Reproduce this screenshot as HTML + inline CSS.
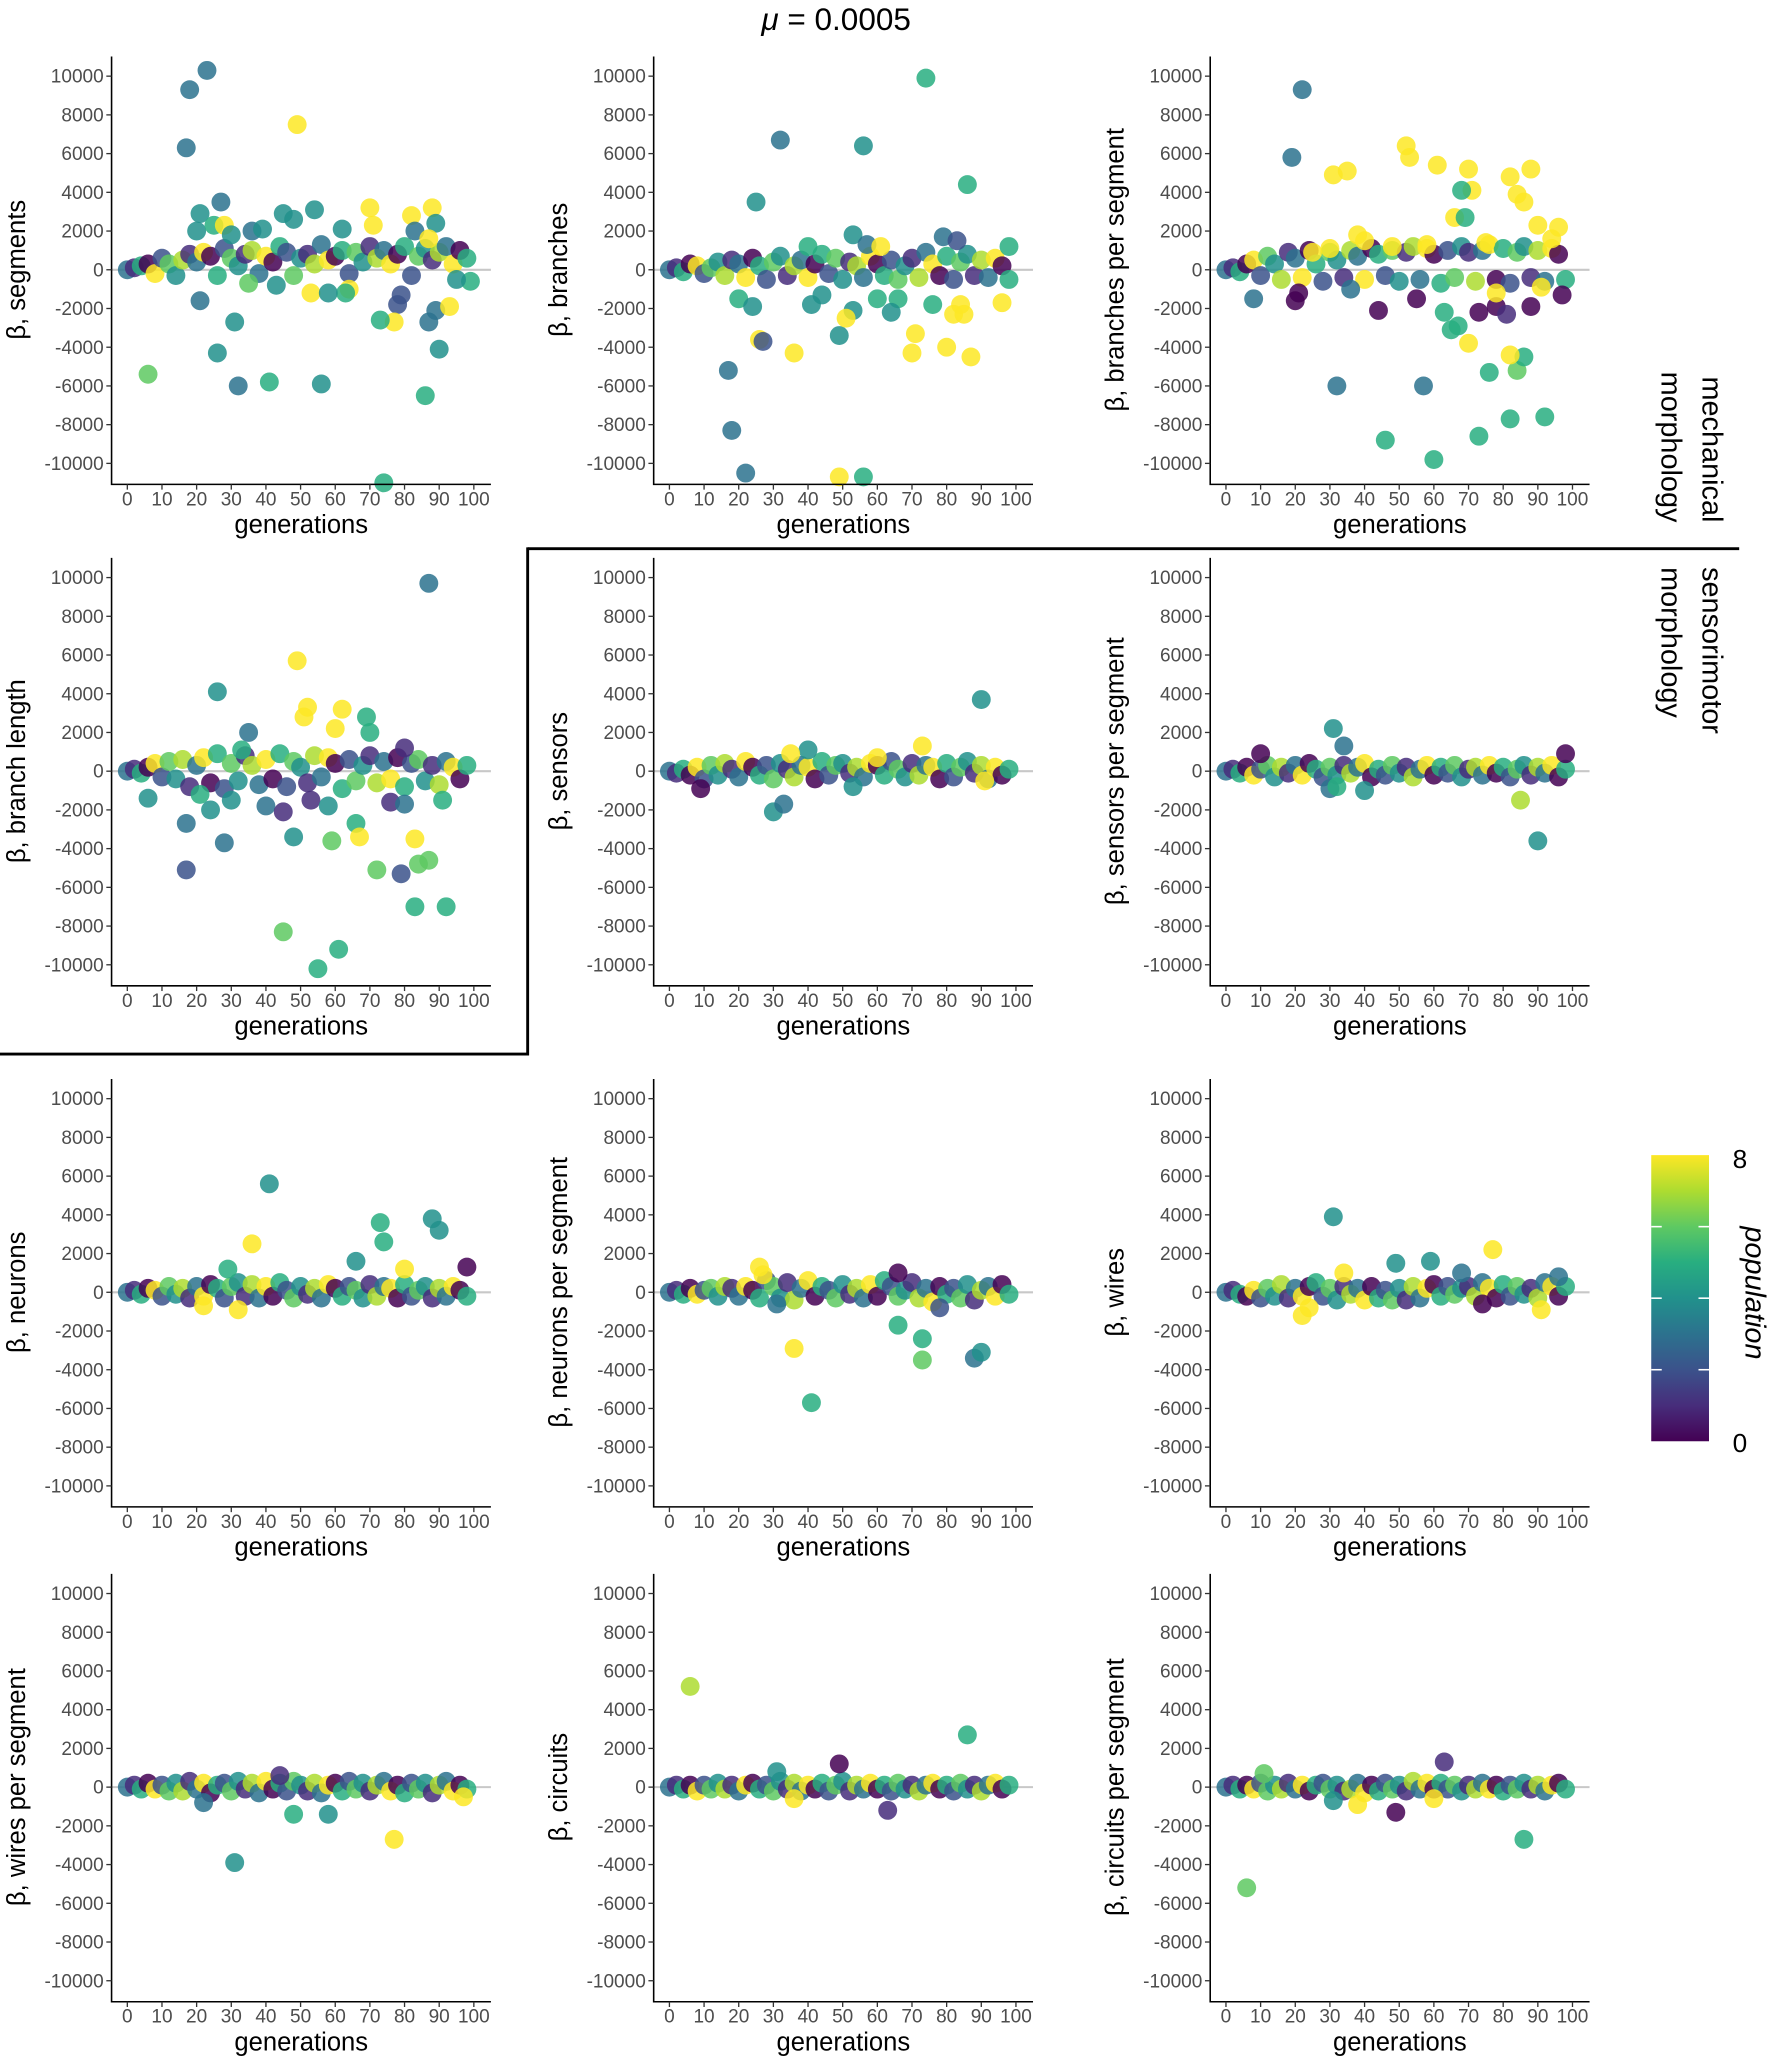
<!DOCTYPE html>
<html><head><meta charset="utf-8">
<style>
html,body{margin:0;padding:0;background:#fff;}
svg{display:block;font-family:"Liberation Sans",sans-serif;}
</style></head>
<body>
<svg id="fig" xmlns="http://www.w3.org/2000/svg" width="1772" height="2059" viewBox="0 0 1350 1568.6">
<defs>
<linearGradient id="vir" x1="0" y1="1" x2="0" y2="0">
<stop offset="0" stop-color="#440154"/><stop offset="0.125" stop-color="#472d7b"/><stop offset="0.25" stop-color="#3b528b"/><stop offset="0.375" stop-color="#2c728e"/><stop offset="0.5" stop-color="#21918c"/><stop offset="0.625" stop-color="#28ae80"/><stop offset="0.75" stop-color="#5ec962"/><stop offset="0.875" stop-color="#addc30"/><stop offset="1" stop-color="#fde725"/>
</linearGradient>
</defs>
<text x="637" y="23" text-anchor="middle" font-size="24"><tspan font-style="italic">μ</tspan> = 0.0005</text>
<line x1="402" y1="418" x2="1325" y2="418" stroke="#000" stroke-width="2.2"/>
<line x1="402" y1="417" x2="402" y2="804" stroke="#000" stroke-width="2.2"/>
<line x1="0" y1="803" x2="403" y2="803" stroke="#000" stroke-width="2.2"/>
<g font-size="22">
<text transform="translate(1297,398) rotate(90)" text-anchor="end">mechanical</text>
<text transform="translate(1266,398) rotate(90)" text-anchor="end">morphology</text>
</g>
<g font-size="22">
<text transform="translate(1297,432) rotate(90)">sensorimotor</text>
<text transform="translate(1266,432) rotate(90)">morphology</text>
</g>
<g>
<rect x="1258" y="880" width="44" height="218" fill="url(#vir)"/>
<g stroke="#fff" stroke-width="1.2">
<line x1="1258" y1="934.5" x2="1266" y2="934.5"/><line x1="1294" y1="934.5" x2="1302" y2="934.5"/>
<line x1="1258" y1="989" x2="1266" y2="989"/><line x1="1294" y1="989" x2="1302" y2="989"/>
<line x1="1258" y1="1043.5" x2="1266" y2="1043.5"/><line x1="1294" y1="1043.5" x2="1302" y2="1043.5"/>
</g>
<text x="1320" y="890" font-size="20">8</text>
<text x="1320" y="1106" font-size="20">0</text>
<text transform="translate(1330,985) rotate(90)" text-anchor="middle" font-size="22" font-style="italic">population</text>
</g>
<g id="panels"></g>
</svg>
<script>
// shared cluster generations (x categories)
const clusterGen = [0,2,4,6,8,10,12,14,16,18,20,22,24,26,28,30,32,34,36,38,40,42,44,46,48,50,52,54,56,58,60,62,64,66,68,70,72,74,76,78,80,82,84,86,88,90,92,94,96,98];
const clusterPop = [3,1,5,0,8,2,6,4,7,1,3,8,0,5,2,6,4,1,7,3,8,0,5,2,6,4,1,7,3,8,0,5,2,6,4,1,7,3,8,0,5,2,6,4,1,7,3,8,0,5];
const xTicks = [0,10,20,30,40,50,60,70,80,90,100];
const yTicks = [10000,8000,6000,4000,2000,0,-2000,-4000,-6000,-8000,-10000];

const segBeta = [0,100,200,300,-200,600,300,-300,500,800,400,900,700,-300,1100,600,200,800,1000,-200,700,400,1200,900,-300,600,800,300,1300,500,700,1000,-200,900,400,1200,600,1000,300,800,1200,-300,700,1100,500,900,1200,300,1000,600];
const segOutGen = [17,18,23,49,6,32,41,56,86,74,26,31,90,21,27,21,45,48,54,70,88,82,89,71,62,83,36,39,20,25,28,30,87,53,64,63,58,79,78,77,73,87,89,93,35,43,99,95];
const segOutBeta = [6300,9300,10300,7500,-5400,-6000,-5800,-5900,-6500,-11000,-4300,-2700,-4100,-1600,3500,2900,2900,2600,3100,3200,3200,2800,2400,2300,2100,2000,2000,2100,2000,2300,2300,1800,1600,-1200,-1000,-1200,-1200,-1300,-1800,-2700,-2600,-2700,-2100,-1900,-700,-800,-600,-500];
const segOutPop = [3,3,3,8,6,3,5,4,5,5,4,4,4,3,3,4,4,4,4,8,8,8,4,8,4,3,3,4,4,5,8,4,8,8,8,5,4,2,2,8,5,3,3,8,6,4,5,4];

const brBeta = [0,100,-100,300,200,-200,100,400,-300,500,300,-400,600,200,-500,400,700,-300,200,500,-400,300,800,-200,600,-500,400,200,-400,700,300,-300,500,-500,200,600,-400,900,300,-300,700,-500,400,800,-300,500,-400,600,200,-500];
const brOutGen = [74,32,56,86,25,98,17,18,22,49,56,26,27,36,49,53,51,70,71,80,82,85,84,87,96,20,24,41,44,66,76,53,57,79,83,64,60,40,61];
const brOutBeta = [9900,6700,6400,4400,3500,1200,-5200,-8300,-10500,-10700,-10700,-3600,-3700,-4300,-3400,-2100,-2500,-4300,-3300,-4000,-2300,-2300,-1800,-4500,-1700,-1500,-1900,-1800,-1300,-1500,-1800,1800,1300,1700,1500,-2200,-1500,1200,1200];
const brOutPop = [5,3,4,5,4,5,3,3,3,8,5,8,2,8,4,4,8,8,8,8,8,8,8,8,8,5,4,4,4,5,5,4,3,3,2,4,5,5,8];

const bpsBeta = [0,100,-100,300,500,-300,700,300,-500,900,600,-400,1000,300,-600,900,500,-400,1000,700,-500,1100,800,-300,1000,-600,900,1200,-500,1100,800,-700,1000,-400,1200,900,-600,1000,1300,-500,1100,-700,900,1200,-400,1000,-600,1100,800,-500];
const bpsOutGen = [22,19,31,35,52,53,61,66,70,71,82,84,86,88,90,96,68,69,38,46,60,73,82,92,76,84,86,82,70,65,67,63,57,32,36,8,20,21,44,55,73,78,81,88,97,78,91,40,48,58,75,94,25,30];
const bpsOutBeta = [9300,5800,4900,5100,6400,5800,5400,2700,5200,4100,4800,3900,3500,5200,2300,2200,4100,2700,1800,-8800,-9800,-8600,-7700,-7600,-5300,-5200,-4500,-4400,-3800,-3100,-2900,-2200,-6000,-6000,-1000,-1500,-1600,-1200,-2100,-1500,-2200,-1900,-2300,-1900,-1300,-1200,-900,1500,1200,1300,1400,1600,900,1100];
const bpsOutPop = [3,3,8,8,8,8,8,8,8,8,8,8,8,8,8,8,5,5,8,5,5,5,5,5,5,6,5,8,8,5,5,5,3,3,3,3,0,0,0,0,0,0,1,0,0,8,8,8,8,8,8,8,8,8];

const blBeta = [0,100,-100,200,400,-300,500,-400,600,-800,300,700,-600,900,-900,400,-500,800,300,-700,600,-400,900,-800,500,200,-600,800,-300,700,400,-900,600,-500,300,800,-600,500,-400,700,-800,400,600,-500,300,-700,500,200,-400,300];
const blOutGen = [87,49,52,51,62,26,69,35,60,17,17,28,45,55,61,48,59,66,67,72,79,83,83,84,87,92,40,45,53,58,76,80,91,6,21,30,24,70,80,33];
const blOutBeta = [9700,5700,3300,2800,3200,4100,2800,2000,2200,-2700,-5100,-3700,-8300,-10200,-9200,-3400,-3600,-2700,-3400,-5100,-5300,-3500,-7000,-4800,-4600,-7000,-1800,-2100,-1500,-1800,-1600,-1700,-1500,-1400,-1200,-1500,-2000,2000,1200,1100];
const blOutPop = [3,8,8,8,8,4,5,3,8,3,2,3,6,5,5,4,6,5,8,6,2,8,5,6,6,5,3,1,1,4,1,3,5,4,5,4,4,5,1,5];

const senBeta = [0,-100,100,-200,200,-400,300,-200,400,100,-300,500,200,-200,300,-400,400,100,-300,300,200,-400,500,-200,300,400,-100,200,-300,400,300,-200,500,100,-300,400,-200,300,200,-400,400,-300,200,500,-100,300,-400,200,-200,100];
const senOutGen = [90,73,40,30,33,9,53,35,60,91];
const senOutBeta = [3700,1300,1100,-2100,-1700,-900,-800,900,700,-500];
const senOutPop = [4,8,4,4,3,0,4,8,8,8];

const spsBeta = [0,100,-100,200,-200,100,300,-300,200,-100,300,-200,400,100,-300,200,-200,300,-100,200,400,-300,100,-200,300,-100,200,-300,100,300,-200,200,-100,300,-300,100,200,-200,300,-100,200,-300,100,300,-200,200,-100,300,-300,100];
const spsOutGen = [31,34,10,85,90,30,32,40,98];
const spsOutBeta = [2200,1300,900,-1500,-3600,-900,-800,-1000,900];
const spsOutPop = [4,3,0,7,4,3,5,4,0];

const neuBeta = [0,100,-100,200,100,-200,300,-100,200,-300,300,-200,400,200,-300,300,500,-200,400,-300,300,-200,500,100,-300,300,-100,200,-300,400,200,-200,300,100,-300,400,-200,300,200,-300,400,-200,100,300,-300,200,-200,300,100,-200];
const neuOutGen = [41,36,73,74,88,90,66,29,80,98,32,22];
const neuOutBeta = [5600,2500,3600,2600,3800,3200,1600,1200,1200,1300,-900,-700];
const neuOutPop = [4,8,5,5,4,4,4,5,8,0,8,8];

const npsBeta = [0,100,-100,200,-100,100,200,-200,300,200,-200,300,100,-300,600,300,-300,500,-400,200,600,-200,300,100,-300,400,-100,200,-300,400,-200,600,300,-200,100,500,-300,200,-500,300,-100,200,-300,400,-400,100,300,-200,400,-100];
const npsOutGen = [26,27,36,41,66,73,73,88,90,66,31,78];
const npsOutBeta = [1300,900,-2900,-5700,-1700,-2400,-3500,-3400,-3100,1000,-600,-800];
const npsOutPop = [8,8,8,5,5,5,6,3,4,0,3,2];

const wirBeta = [0,100,-100,-200,100,-300,200,-200,400,-300,200,-200,300,500,-200,200,-400,300,-100,200,-400,300,-300,100,-400,200,-400,300,-300,200,400,-200,300,-100,200,300,-200,500,200,-300,400,-200,300,-100,200,-300,500,300,-200,300];
const wirOutGen = [31,49,59,77,34,22,24,91,74,68,96];
const wirOutBeta = [3900,1500,1600,2200,1000,-1200,-800,-900,-600,1000,800];
const wirOutPop = [4,4,4,8,8,8,8,8,0,3,3];

const wpsBeta = [0,100,-100,200,-100,100,-200,200,-200,300,-100,200,-300,100,200,-200,300,-100,200,-300,300,-100,200,-200,300,100,-200,200,-300,100,200,-200,300,-100,200,-200,100,300,-200,100,-300,200,-100,200,-300,100,300,-200,100,-100];
const wpsOutGen = [31,48,58,77,22,44,97];
const wpsOutBeta = [-3900,-1400,-1400,-2700,-800,600,-500];
const wpsOutPop = [4,5,4,8,3,1,8];

const cirBeta = [0,100,-100,100,-200,100,-100,200,-100,100,-200,100,200,-100,100,-200,300,-100,200,-200,100,-100,200,-200,100,300,-200,100,-100,200,-100,100,-200,200,-100,100,-200,100,200,-100,100,-200,200,-100,100,-200,100,200,-100,100];
const cirOutGen = [6,86,49,63,31,36];
const cirOutBeta = [5200,2700,1200,-1200,800,-600];
const cirOutPop = [7,5,0,1,4,8];

const cpsBeta = [0,100,-100,100,-100,200,-200,100,-100,200,-100,100,-200,100,200,-100,100,-200,-100,200,-300,100,-200,200,-100,100,-200,300,-100,200,-100,200,-100,100,-200,100,-100,200,-100,100,-200,100,-100,200,-100,100,-200,100,200,-100];
const cpsOutGen = [6,86,63,49,11,31,38,60];
const cpsOutBeta = [-5200,-2700,1300,-1300,700,-700,-900,-600];
const cpsOutPop = [6,5,1,0,6,4,8,8];

const panels = [
 {name:'segments', label:'β, segments', col:0,row:0, beta:segBeta, og:segOutGen, ob:segOutBeta, op:segOutPop},
 {name:'branches', label:'β, branches', col:1,row:0, beta:brBeta, og:brOutGen, ob:brOutBeta, op:brOutPop},
 {name:'branches-per-segment', label:'β, branches per segment', col:2,row:0, beta:bpsBeta, og:bpsOutGen, ob:bpsOutBeta, op:bpsOutPop},
 {name:'branch-length', label:'β, branch length', col:0,row:1, beta:blBeta, og:blOutGen, ob:blOutBeta, op:blOutPop},
 {name:'sensors', label:'β, sensors', col:1,row:1, beta:senBeta, og:senOutGen, ob:senOutBeta, op:senOutPop},
 {name:'sensors-per-segment', label:'β, sensors per segment', col:2,row:1, beta:spsBeta, og:spsOutGen, ob:spsOutBeta, op:spsOutPop},
 {name:'neurons', label:'β, neurons', col:0,row:2, beta:neuBeta, og:neuOutGen, ob:neuOutBeta, op:neuOutPop},
 {name:'neurons-per-segment', label:'β, neurons per segment', col:1,row:2, beta:npsBeta, og:npsOutGen, ob:npsOutBeta, op:npsOutPop},
 {name:'wires', label:'β, wires', col:2,row:2, beta:wirBeta, og:wirOutGen, ob:wirOutBeta, op:wirOutPop},
 {name:'wires-per-segment', label:'β, wires per segment', col:0,row:3, beta:wpsBeta, og:wpsOutGen, ob:wpsOutBeta, op:wpsOutPop},
 {name:'circuits', label:'β, circuits', col:1,row:3, beta:cirBeta, og:cirOutGen, ob:cirOutBeta, op:cirOutPop},
 {name:'circuits-per-segment', label:'β, circuits per segment', col:2,row:3, beta:cpsBeta, og:cpsOutGen, ob:cpsOutBeta, op:cpsOutPop}
];

const viridis = ['#440154','#472d7b','#3b528b','#2c728e','#21918c','#28ae80','#5ec962','#addc30','#fde725'];
const colAxisX = [85,498,922];
const rowTop = [58,440,837,1214]; // y of 10000 tick
const NS = 'http://www.w3.org/2000/svg';
function mk(tag, attrs, parent){ const e=document.createElementNS(NS,tag); for(const k in attrs) e.setAttribute(k,attrs[k]); parent.appendChild(e); return e; }
const root = document.getElementById('panels');

panels.forEach(p=>{
  const ax = colAxisX[p.col];
  const y10 = rowTop[p.row];
  const yScale = v => y10 + (10000 - v) * (295/20000);
  const xScale = g => ax + 12 + g * 2.64;
  const top = y10 - 15, bottom = yScale(-10000) + 16, right = ax + 289;
  const g = mk('g',{},root);
  
  
  const zl = mk('line',{x1:ax,x2:right,y1:yScale(0),y2:yScale(0),stroke:'#c8c8c8','stroke-width':1.6},g);
  
  
  const pts = mk('g',{},g);
  
  
  const all = [];
  p.beta.forEach((b,i)=>all.push([clusterGen[i], b, clusterPop[i]]));
  p.og.forEach((gg,i)=>all.push([gg, p.ob[i], p.op[i]]));
  all.forEach(d=>{
    const c = mk('circle',{cx:xScale(d[0]).toFixed(1), cy:yScale(d[1]).toFixed(1), r:7.2, fill:viridis[d[2]], 'fill-opacity':0.85},pts);
    
    
  });
  const axl = mk('path',{d:`M${ax},${top} V${bottom} H${right}`, fill:'none', stroke:'#000','stroke-width':1.2},g);
  
  
  const yt = mk('g',{'font-size':14.5, fill:'#4d4d4d','text-anchor':'end'},g);
  
  
  yTicks.forEach(v=>{
    const y = yScale(v);
    mk('line',{x1:ax-4,x2:ax,y1:y,y2:y,stroke:'#333','stroke-width':1},yt);
    const t = mk('text',{x:ax-6,y:y+5},yt); t.textContent = v;
  });
  const xt = mk('g',{'font-size':14.5, fill:'#4d4d4d','text-anchor':'middle'},g);
  
  
  xTicks.forEach(v=>{
    const x = xScale(v);
    mk('line',{x1:x,x2:x,y1:bottom,y2:bottom+4,stroke:'#333','stroke-width':1},xt);
    const t = mk('text',{x:x,y:bottom+16},xt); t.textContent = v;
  });
  const xl = mk('text',{x:(ax+right)/2, y:bottom+37, 'font-size':19.5,'text-anchor':'middle'},g);
  xl.textContent = 'generations';
  
  
  const yl = mk('text',{transform:`translate(${ax-66},${yScale(0)}) rotate(-90)`, 'font-size':19.5,'text-anchor':'middle'},g);
  yl.textContent = p.label;
  
  
});
</script>
</body></html>
